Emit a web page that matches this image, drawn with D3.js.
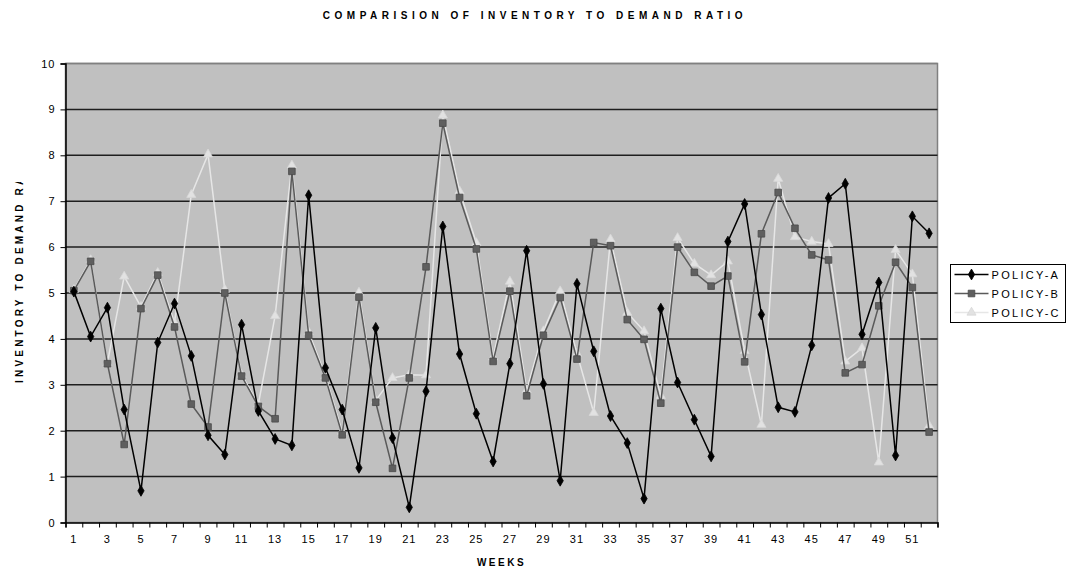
<!DOCTYPE html>
<html>
<head>
<meta charset="utf-8">
<script src="https://cdn.jsdelivr.net/npm/d3@7"></script>
<style>
  html, body { margin: 0; padding: 0; background: #fff; }
  svg { display: block; }
  text { font-family: "Liberation Sans", Arial, sans-serif; fill: #000; }
</style>
</head>
<body>
<svg id="chart" width="1068" height="569"></svg>
<script>
// Weekly inventory-to-demand ratio for three stocking policies
const weeks = d3.range(1, 53);
const policyA = [5.03, 4.05, 4.68, 2.46, 0.69, 3.92, 4.77, 3.63, 1.90, 1.48,
                 4.31, 2.43, 1.82, 1.68, 7.13, 3.37, 2.46, 1.19, 4.24, 1.84,
                 0.33, 2.86, 6.45, 3.67, 2.37, 1.33, 3.46, 5.92, 3.02, 0.91,
                 5.20, 3.73, 2.32, 1.73, 0.52, 4.66, 3.05, 2.24, 1.44, 6.12,
                 6.94, 4.53, 2.51, 2.41, 3.86, 7.07, 7.38, 4.10, 5.23, 1.46,
                 6.67, 6.30];
const policyB = [5.05, 5.69, 3.46, 1.70, 4.66, 5.39, 4.26, 2.58, 2.08, 5.00,
                 3.19, 2.53, 2.26, 7.65, 4.08, 3.15, 1.91, 4.91, 2.62, 1.18,
                 3.15, 5.57, 8.70, 7.08, 5.96, 3.51, 5.04, 2.76, 4.08, 4.90,
                 3.56, 6.10, 6.03, 4.42, 3.99, 2.60, 6.00, 5.45, 5.15, 5.37,
                 3.50, 6.29, 7.19, 6.41, 5.83, 5.72, 3.26, 3.44, 4.72, 5.67,
                 5.12, 1.97];
const policyC = [5.07, 5.72, 3.48, 5.36, 4.70, 5.44, 4.35, 7.14, 8.02, 5.07,
                 3.22, 2.58, 4.50, 7.78, 4.15, 3.19, 1.98, 5.01, 2.66, 3.15,
                 3.22, 3.21, 8.87, 7.22, 6.09, 3.60, 5.25, 2.88, 4.17, 5.04,
                 3.68, 2.39, 6.17, 4.57, 4.17, 2.76, 6.20, 5.64, 5.39, 5.69,
                 3.74, 2.13, 7.49, 6.22, 6.12, 6.07, 3.51, 3.80, 1.31, 5.94,
                 5.41, 2.11];
const seriesNames = ["POLICY-A", "POLICY-B", "POLICY-C"];
const yTicks = d3.range(0, 11);
const xLabelWeeks = weeks.filter(w => w % 2 === 1);

const series = [
  { name: seriesNames[0], values: policyA, line: "#000000", fill: "#000000", stroke: "#000000", symbol: d3.symbolDiamond, size: 34 },
  { name: seriesNames[1], values: policyB, line: "#5a5a5a", fill: "#5f5f5f", stroke: "#4a4a4a", symbol: d3.symbolSquare, size: 44 },
  { name: seriesNames[2], values: policyC, line: "#e6e6e6", fill: "#e2e2e2", stroke: "#d8d8d8", symbol: d3.symbolTriangle, size: 36 }
];

const svg = d3.select("#chart");
const plot = { left: 65.5, right: 937.5, top: 63.5, bottom: 522.5 };

const x = d3.scaleBand().domain(weeks).range([plot.left, plot.right]);
const xEdge = d3.scaleLinear().domain([0, weeks.length]).range([plot.left, plot.right]);
const y = d3.scaleLinear().domain([0, 10]).range([plot.bottom, plot.top]);
const cx = w => x(w) + x.bandwidth() / 2;

// plot background
svg.append("rect")
  .attr("x", plot.left).attr("y", plot.top)
  .attr("width", plot.right - plot.left).attr("height", plot.bottom - plot.top)
  .attr("fill", "#c0c0c0").attr("stroke", "#808080").attr("stroke-width", 1.5);

// horizontal gridlines
svg.append("g")
  .selectAll("line")
  .data(yTicks.filter(t => t > 0))
  .join("line")
  .attr("x1", plot.left).attr("x2", plot.right)
  .attr("y1", d => y(d)).attr("y2", d => y(d))
  .attr("stroke", d => d === 10 ? "#808080" : "#1e1e1e")
  .attr("stroke-width", 1.5);

// y axis
const yAxis = svg.append("g")
  .attr("transform", `translate(${plot.left},0)`)
  .call(d3.axisLeft(y).tickValues(yTicks).tickSize(5).tickPadding(5).tickFormat(d3.format("d")));
yAxis.select(".domain").attr("stroke", "#000").attr("stroke-width", 1.5);
yAxis.selectAll(".tick line").attr("stroke", "#000");
yAxis.selectAll("text")
  .style("font-family", "'Liberation Sans', Arial, sans-serif")
  .style("font-size", "11px").style("letter-spacing", "1px").attr("fill", "#000");

// x axis: ticks on week boundaries, labels under odd weeks
const xTickAxis = svg.append("g")
  .attr("transform", `translate(0,${plot.bottom})`)
  .call(d3.axisBottom(xEdge).tickValues(d3.range(0, weeks.length + 1)).tickSize(5).tickFormat(""));
xTickAxis.select(".domain").attr("stroke", "#000").attr("stroke-width", 1.5);
xTickAxis.selectAll(".tick line").attr("stroke", "#000");

const xLabelAxis = svg.append("g")
  .attr("transform", `translate(0,${plot.bottom})`)
  .call(d3.axisBottom(x).tickValues(xLabelWeeks).tickSize(0).tickPadding(13));
xLabelAxis.select(".domain").remove();
xLabelAxis.selectAll("text")
  .style("font-family", "'Liberation Sans', Arial, sans-serif")
  .style("font-size", "11px").style("letter-spacing", "1px").attr("fill", "#000");

// series lines and markers
const line = d3.line().x((d, i) => cx(weeks[i])).y(d => y(d));
const order = [2, 1, 0];
order.forEach(k => {
  const s = series[k];
  svg.append("path")
    .datum(s.values)
    .attr("d", line)
    .attr("fill", "none")
    .attr("stroke", s.line)
    .attr("stroke-width", 1.5);
  svg.append("g")
    .selectAll("path")
    .data(s.values)
    .join("path")
    .attr("transform", (d, i) => `translate(${cx(weeks[i])},${y(d)})`)
    .attr("d", d3.symbol().type(s.symbol).size(s.size))
    .attr("fill", s.fill)
    .attr("stroke", s.stroke)
    .attr("stroke-width", 0.8);
});

// title
svg.append("text")
  .attr("x", 535).attr("y", 19)
  .attr("text-anchor", "middle")
  .style("font-size", "10px").style("font-weight", "bold").style("letter-spacing", "4.5px")
  .text("COMPARISION OF INVENTORY TO DEMAND RATIO");

// axis titles
svg.append("text")
  .attr("x", (plot.left + plot.right) / 2).attr("y", 566)
  .attr("text-anchor", "middle")
  .style("font-size", "10px").style("font-weight", "bold").style("letter-spacing", "2.5px")
  .text("WEEKS");

// y-axis title, cut off where the space above runs out
svg.append("clipPath").attr("id", "ylabel-clip")
  .append("rect").attr("x", 0).attr("y", 182).attr("width", 40).attr("height", 300);
svg.append("g").attr("clip-path", "url(#ylabel-clip)")
  .append("text")
  .attr("transform", "translate(23,383) rotate(-90)")
  .attr("text-anchor", "start")
  .style("font-size", "10px").style("font-weight", "bold").style("letter-spacing", "3.2px")
  .text("INVENTORY TO DEMAND RATIO");

// legend
const legend = svg.append("g").attr("transform", "translate(950.5,264.5)");
legend.append("rect")
  .attr("width", 115).attr("height", 58)
  .attr("fill", "#fff").attr("stroke", "#000").attr("stroke-width", 1);
series.forEach((s, i) => {
  const ly = 10 + i * 19;
  legend.append("line")
    .attr("x1", 4).attr("x2", 38).attr("y1", ly).attr("y2", ly)
    .attr("stroke", s.line).attr("stroke-width", 1.5);
  legend.append("path")
    .attr("transform", `translate(21,${ly})`)
    .attr("d", d3.symbol().type(s.symbol).size(s.size))
    .attr("fill", s.fill).attr("stroke", s.stroke).attr("stroke-width", 0.8);
  legend.append("text")
    .attr("x", 41).attr("y", ly + 4)
    .style("font-size", "11px").style("letter-spacing", "2.3px")
    .text(s.name);
});
</script>
</body>
</html>
